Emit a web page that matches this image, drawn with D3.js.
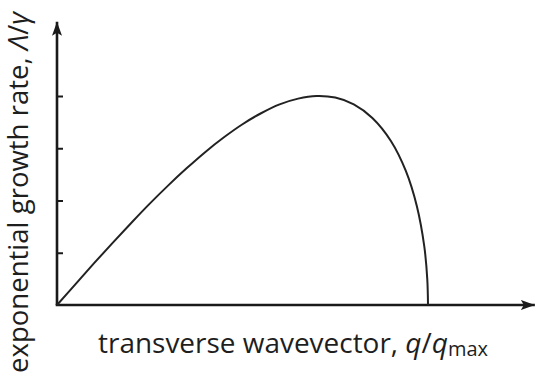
<!DOCTYPE html>
<html>
<head>
<meta charset="utf-8">
<script src="https://cdn.jsdelivr.net/npm/d3@7"></script>
<style>
  html, body { margin: 0; padding: 0; background: #fff; }
  svg { display: block; }
  text { font-family: "Open Sans", "Noto Sans", sans-serif; fill: #1e1e1e; }
</style>
</head>
<body>
<svg id="chart" width="538" height="381"></svg>
<script>
// Normalised transverse wavevector q/q_max
const wavevector = [0, 0.05, 0.1, 0.15, 0.2, 0.25, 0.3, 0.35, 0.4, 0.45, 0.5, 0.55,
                    0.6, 0.65, 0.7, 0.75, 0.8, 0.85, 0.9, 0.94, 0.97, 0.99, 0.998, 1.0];
// Exponential growth rate Λ/γ (in units of the axis tick spacing)
const growthRate = [0, 0.40, 0.80, 1.19, 1.57, 1.94, 2.29, 2.62, 2.93, 3.21, 3.46, 3.67,
                    3.84, 3.95, 4.00, 3.97, 3.84, 3.58, 3.14, 2.57, 1.89, 1.12, 0.50, 0];
// Unlabelled tick marks along the growth-rate axis
const yTicks = [1, 2, 3, 4];
// Extent of the arrowed axes
const xAxisEnd = 1.288;
const yAxisEnd = 5.42;

const svg = d3.select("#chart");
const x = d3.scaleLinear().domain([0, 1]).range([57, 428]);
const y = d3.scaleLinear().domain([0, 4]).range([305, 96]);

const ink = "#1a1a1a";

// arrowheads
const defs = svg.append("defs");
defs.append("marker")
  .attr("id", "arrow")
  .attr("viewBox", "0 0 14 10")
  .attr("refX", 14).attr("refY", 5)
  .attr("markerUnits", "userSpaceOnUse")
  .attr("markerWidth", 14).attr("markerHeight", 10)
  .attr("orient", "auto")
  .append("path")
  .attr("d", "M0,0 L14,5 L0,10 L3,5 Z")
  .attr("fill", ink);

// tick marks on the inner side of the vertical axis
const yAxis = d3.axisRight(y).tickValues(yTicks).tickSize(6).tickFormat("");
const gy = svg.append("g").attr("transform", `translate(${x(0)},0)`).call(yAxis);
gy.select(".domain").remove();
gy.selectAll(".tick line").attr("stroke", ink).attr("stroke-width", 2);

// axes with arrows
svg.append("line")
  .attr("x1", x(0)).attr("y1", y(0))
  .attr("x2", x(0)).attr("y2", y(yAxisEnd))
  .attr("stroke", ink).attr("stroke-width", 2.6)
  .attr("marker-end", "url(#arrow)");
svg.append("line")
  .attr("x1", x(0) - 1.3).attr("y1", y(0))
  .attr("x2", x(xAxisEnd)).attr("y2", y(0))
  .attr("stroke", ink).attr("stroke-width", 2.6)
  .attr("marker-end", "url(#arrow)");

// growth-rate curve
const line = d3.line()
  .x((d, i) => x(wavevector[i]))
  .y(d => y(d))
  .curve(d3.curveCatmullRom.alpha(0.5));
svg.append("path")
  .datum(growthRate)
  .attr("d", line)
  .attr("fill", "none")
  .attr("stroke", "#222")
  .attr("stroke-width", 2);

// axis titles
const xt = svg.append("text")
  .attr("x", 98).attr("y", 353)
  .attr("font-size", 28)
  .attr("textLength", 390)
  .attr("lengthAdjust", "spacingAndGlyphs");
xt.append("tspan").text("transverse wavevector, ");
xt.append("tspan").attr("font-style", "italic").text("q");
xt.append("tspan").text("/");
xt.append("tspan").attr("font-style", "italic").text("q");
xt.append("tspan").attr("font-size", 20).attr("dy", 3).text("max");

const yt = svg.append("text")
  .attr("transform", "translate(28,373) rotate(-90)")
  .attr("font-size", 27)
  .attr("textLength", 361)
  .attr("lengthAdjust", "spacingAndGlyphs");
yt.append("tspan").text("exponential growth rate, ");
yt.append("tspan").attr("font-style", "italic").text("Λ");
yt.append("tspan").text("/");
yt.append("tspan").attr("font-style", "italic").text("γ");
</script>
</body>
</html>
